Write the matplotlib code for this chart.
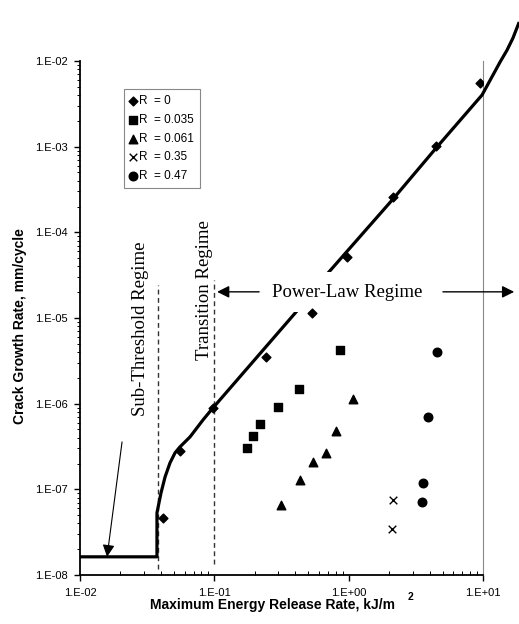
import matplotlib
matplotlib.use("Agg")
import matplotlib.pyplot as plt
from matplotlib.ticker import FixedLocator, NullFormatter, LogLocator

# datos (G max en kJ/m2, da/dN en mm/ciclo)
r0_x = [0.0415, 0.0555, 0.0977, 0.243, 0.534, 0.973, 2.14, 4.48, 9.51]
r0_y = [4.65e-8, 2.81e-7, 8.93e-7, 3.52e-6, 1.15e-5, 5.16e-5, 2.59e-4, 1.02e-3, 5.53e-3]

r035_x = [0.175, 0.194, 0.219, 0.298, 0.427, 0.863]
r035_y = [3.05e-7, 4.21e-7, 5.81e-7, 9.18e-7, 1.49e-6, 4.25e-6]

r061_x = [0.314, 0.435, 0.543, 0.679, 0.805, 1.08]
r061_y = [6.59e-8, 1.29e-7, 2.09e-7, 2.67e-7, 4.82e-7, 1.14e-6]

r35_x = [2.14, 2.11]
r35_y = [7.55e-8, 3.46e-8]

r47_x = [4.55, 3.90, 3.58, 3.52]
r47_y = [4.02e-6, 7.02e-7, 1.19e-7, 7.14e-8]

# curva de ajuste
curva_x = [0.01, 0.0374, 0.0374, 0.0401, 0.0430, 0.0468, 0.0510, 0.0555, 0.0660,
           0.0824, 0.0977, 0.420, 0.703, 2.14, 4.48, 9.84, 13.4, 15.1, 16.7, 18.6]
curva_y = [1.63e-8, 1.63e-8, 5.32e-8, 9.1e-8, 1.40e-7, 2.04e-7, 2.67e-7, 3.13e-7, 4.10e-7,
           6.47e-7, 8.93e-7, 1.25e-5, 3.36e-5, 2.45e-4, 9.66e-4, 4.01e-3,
           9.73e-3, 1.34e-2, 1.85e-2, 2.85e-2]

umbral = 0.038
transicion = 0.1

etiquetas = ["R  = 0", "R  = 0.035", "R  = 0.061", "R  = 0.35", "R  = 0.47"]
yticks = [1e-8, 1e-7, 1e-6, 1e-5, 1e-4, 1e-3, 1e-2]
ytick_lab = ["1.E-08", "1.E-07", "1.E-06", "1.E-05", "1.E-04", "1.E-03", "1.E-02"]
xticks = [0.01, 0.1, 1, 10]
xtick_lab = ["1.E-02", "1.E-01", "1.E+00", "1.E+01"]

plt.rcParams['font.family'] = ['Liberation Sans', 'DejaVu Sans']

fig = plt.figure(figsize=(5.19, 6.24), dpi=100)
ax = fig.add_axes([80/519, 1-575/624, 403/519, 514/624])
ax.set_xscale('log')
ax.set_yscale('log')
ax.set_xlim(0.01, 10)
ax.set_ylim(1e-8, 1e-2)

# ejes
ax.spines['top'].set_visible(False)
ax.spines['right'].set_color('#888888')
ax.spines['right'].set_linewidth(0.8)
ax.spines['left'].set_linewidth(1.3)
ax.spines['bottom'].set_linewidth(1.3)

ax.yaxis.set_major_locator(FixedLocator(yticks))
ax.set_yticklabels(ytick_lab)
ax.xaxis.set_major_locator(FixedLocator(xticks))
ax.set_xticklabels(xtick_lab)
ax.yaxis.set_minor_locator(LogLocator(base=10, subs=range(2, 10), numticks=20))
ax.xaxis.set_minor_locator(LogLocator(base=10, subs=range(2, 10), numticks=20))
ax.yaxis.set_minor_formatter(NullFormatter())
ax.xaxis.set_minor_formatter(NullFormatter())
ax.tick_params(axis='both', which='major', labelsize=8, length=4, width=1, pad=5)
ax.tick_params(axis='y', which='minor', length=2.5, width=0.7, direction='out')
ax.tick_params(axis='x', which='minor', length=3, width=0.7, direction='in')
ax.tick_params(right=False, which='both')

# curva
ax.plot(curva_x, curva_y, color='black', lw=2.3, clip_on=False, zorder=3,
        solid_capstyle='butt', solid_joinstyle='round')

# lineas punteadas de regimen
ax.plot([umbral, umbral], [1.16e-8, 2.43e-5], color='#333333', lw=1, ls=(0, (3.5, 2.5)), zorder=2)
ax.plot([transicion, transicion], [1.35e-8, 2.79e-5], color='#333333', lw=1, ls=(0, (3.5, 2.5)), zorder=2)

# textos
ax.text(0.028, 7.46e-6, "Sub-Threshold Regime", rotation=90, ha='center', va='center',
        fontsize=13.5, family='Liberation Serif')
ax.text(0.0838, 2.13e-5, "Transition Regime", rotation=90, ha='center', va='center',
        fontsize=13.5, family='Liberation Serif')
ax.text(0.973, 2.0e-5, "Power-Law Regime", ha='center', va='center',
        fontsize=13.5, family='Liberation Serif', zorder=3.5,
        bbox=dict(boxstyle='square,pad=0.6', fc='white', ec='none'))

# flechas
ax.annotate('', xy=(transicion, 2.02e-5), xytext=(0.226, 2.02e-5),
            arrowprops=dict(arrowstyle='-|>', color='black', lw=1, mutation_scale=18))
ax.annotate('', xy=(17.9, 2.02e-5), xytext=(4.80, 2.02e-5), annotation_clip=False,
            arrowprops=dict(arrowstyle='-|>', color='black', lw=1, mutation_scale=18))
ax.annotate('', xy=(0.0159, 1.63e-8), xytext=(0.02056, 3.58e-7),
            arrowprops=dict(arrowstyle='-|>', color='black', lw=0.8, mutation_scale=18,
                            shrinkA=0, shrinkB=0))

# datos
ax.scatter(r0_x, r0_y, marker='D', s=20, color='black', zorder=4, label=etiquetas[0])
ax.scatter(r035_x, r035_y, marker='s', s=30, color='black', zorder=4, label=etiquetas[1])
ax.scatter(r061_x, r061_y, marker='^', s=38, color='black', zorder=4, label=etiquetas[2])
ax.scatter(r35_x, r35_y, marker='x', s=30, color='black', lw=1, zorder=4, label=etiquetas[3])
ax.scatter(r47_x, r47_y, marker='o', s=38, color='black', zorder=4, label=etiquetas[4])

leg = ax.legend(loc='upper left', bbox_to_anchor=(0.109, 0.9455), borderaxespad=0,
                fontsize=8.5, handlelength=0.6, handletextpad=0.2, borderpad=0.5,
                labelspacing=0.58, fancybox=False, framealpha=1, edgecolor='#888888',
                scatterpoints=1)
leg.get_frame().set_linewidth(0.8)

# titulos de ejes
fig.text(273/519, 1-605/624, "Maximum Energy Release Rate, kJ/m", ha='center', va='center',
         fontsize=10, fontweight='bold')
fig.text(410/519, 1-597/624, "2", ha='center', va='center', fontsize=7.5, fontweight='bold')
fig.text(20/519, 1-326/624, "Crack Growth Rate, mm/cycle", rotation=90, ha='center',
         va='center', fontsize=10, fontweight='bold')

fig.savefig('out.png', dpi=100)
